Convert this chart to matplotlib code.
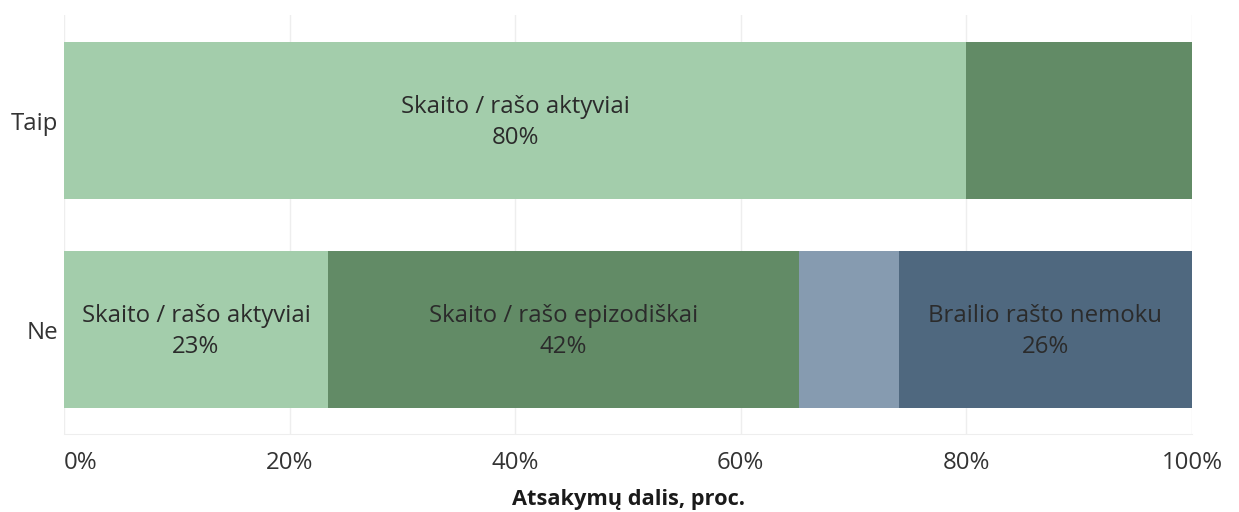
import matplotlib.pyplot as plt
import numpy as np

plt.rcParams['font.family'] = ['Open Sans', 'DejaVu Sans']

# Data (percent of answers)
categories = ['Taip', 'Ne']
aktyviai = [80.0, 23.4]
epizodiskai = [20.0, 41.8]
kita = [0.0, 8.8]
nemoku = [0.0, 26.0]

series = [aktyviai, epizodiskai, kita, nemoku]
series_names = ['Skaito / rašo aktyviai', 'Skaito / rašo epizodiškai',
                'Kita', 'Brailio rašto nemoku']
colors = ['#a3cdab', '#628b66', '#869bb0', '#4f687f']
# which segments get a text label (row index per series)
labelled = [[0, 1], [1], [], [1]]

xticks = [0, 20, 40, 60, 80, 100]
xtick_labels = ['0%', '20%', '40%', '60%', '80%', '100%']

fig = plt.figure(figsize=(12.39, 5.12), dpi=100)
ax = fig.add_axes([64 / 1239, 1 - 434 / 512, 1128 / 1239, 419 / 512])

ypos = np.array([1, 0])
left = np.zeros(len(categories))
for vals, name, col, lab in zip(series, series_names, colors, labelled):
    vals = np.array(vals)
    ax.barh(ypos, vals, left=left, height=0.75, color=col, edgecolor='none', zorder=2)
    for i in lab:
        ax.text(left[i] + vals[i] / 2, ypos[i] - 0.01, f'{name}\n{vals[i]:.0f}%',
                ha='center', va='center', fontsize=17.3, color='#2b2b2b',
                linespacing=1.4, zorder=3)
    left = left + vals

ax.set_xlim(0, 100)
ax.set_ylim(-0.5, 1.505)
ax.set_xticks(xticks)
ax.set_xticklabels(xtick_labels)
ax.get_xticklabels()[0].set_ha('left')
ax.set_yticks(ypos)
ax.set_yticklabels(categories)
ax.tick_params(axis='both', length=0, labelsize=17.3, labelcolor='#333333')
ax.tick_params(axis='x', pad=12)
ax.tick_params(axis='y', pad=4)

ax.grid(axis='x', color='#eeeeee', linewidth=1, zorder=0)
for s in ['top', 'right', 'left']:
    ax.spines[s].set_visible(False)
ax.spines['bottom'].set_color('#eeeeee')

ax.set_xlabel('Atsakymų dalis, proc.', fontsize=15.7, fontweight='bold',
              color='#1a1a1a', labelpad=10)

fig.savefig('out.png', dpi=100)
